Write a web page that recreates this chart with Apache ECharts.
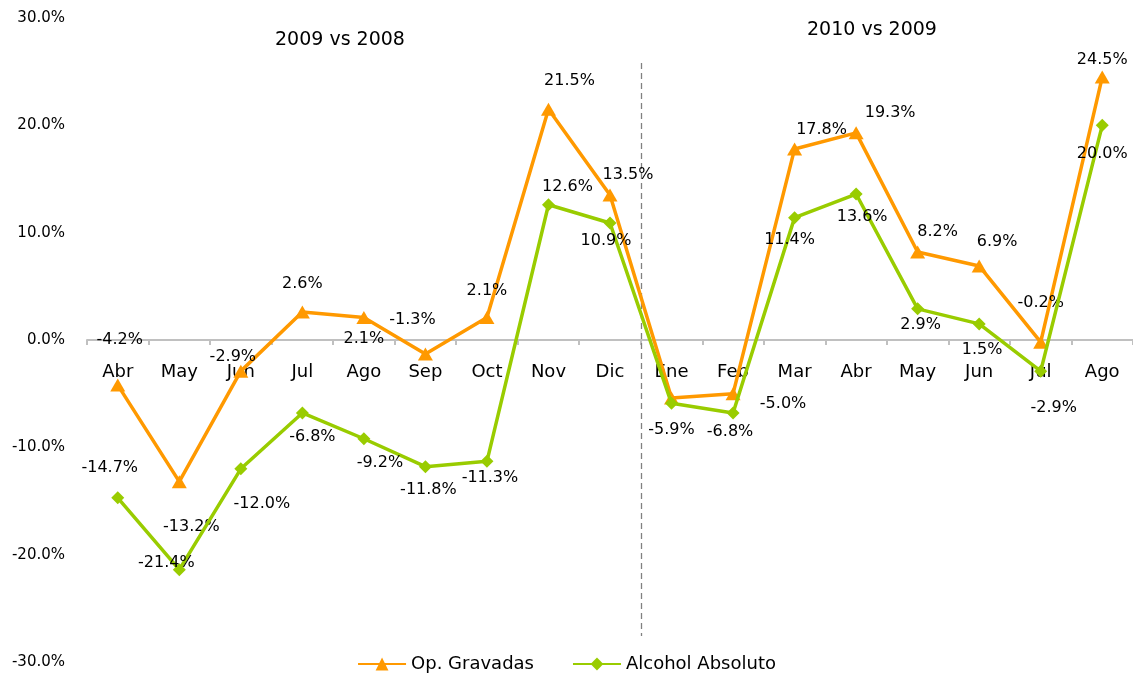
<!DOCTYPE html>
<html>
<head>
<meta charset="UTF-8">
<title></title>
<style type="text/css">
	* { margin: 0; padding: 0; }
	#chart { width: 1133px; height: 676px; background: #fff; }
</style>
</head>
<body>
<div id="chart"></div>
<script src="https://cdn.jsdelivr.net/npm/echarts@6/dist/echarts.min.js"></script>
<script type="text/javascript">
	// meses
	var months = ['Abr', 'May', 'Jun', 'Jul', 'Ago', 'Sep', 'Oct', 'Nov', 'Dic',
		'Ene', 'Feb', 'Mar', 'Abr', 'May', 'Jun', 'Jul', 'Ago'];
	// variacion %
	var opGravadas = [-4.2, -13.2, -2.9, 2.6, 2.1, -1.3, 2.1, 21.5, 13.5,
		-5.4, -5.0, 17.8, 19.3, 8.2, 6.9, -0.2, 24.5];
	var alcohol = [-14.7, -21.4, -12.0, -6.8, -9.2, -11.8, -11.3, 12.6, 10.9,
		-5.9, -6.8, 11.4, 13.6, 2.9, 1.5, -2.9, 20.0];
	var yTicks = [-30, -20, -10, 0, 10, 20, 30];

	// posicion de las etiquetas (desplazamiento desde el punto), null = sin etiqueta
	var opLabelOffset = [[2, -45], [12, 45], [-8, -14], [0, -28], [0, 21], [-13, -34], [0, -27], [21, -28], [18, -20],
		null, [50, 10], [27, -19], [34, -20], [20, -20], [18, -24], [0, -39], [0, -17]];
	var alLabelOffset = [[-8, -30], [-13, -7], [21, 35], [10, 24], [16, 24], [3, 23], [3, 17], [19, -18], [-4, 18],
		[0, 27], [-3, 19], [-5, 22], [6, 23], [3, 16], [3, 26], [13, 37], [0, 29]];

	var FONT = 'DejaVu Sans';
	var GRID_TOP = 18, GRID_BOTTOM = 14, H = 676;
	// eje x sobre la linea de 0 (centro del grid)
	var zeroOffset = -((H - GRID_TOP - GRID_BOTTOM) / 2);

	function buildData(values, offsets) {
		return values.map(function(v, i) {
			return { value: v, label: { show: !!offsets[i] } };
		});
	}

	function layoutFrom(offsets) {
		return function(p) {
			var off = offsets[p.dataIndex] || [0, 0];
			return { dx: off[0], dy: off[1], hideOverlap: false };
		};
	}

	var myChart = echarts.init(document.getElementById('chart'));
	var option = {
		animation: false,
		textStyle: { fontFamily: FONT, color: '#000' },
		grid: { left: 87, right: 0, top: GRID_TOP, bottom: GRID_BOTTOM, containLabel: false, outerBoundsMode: 'none' },
		legend: {
			left: 'center',
			top: 650,
			itemWidth: 48,
			itemHeight: 16,
			itemGap: 38,
			textStyle: { fontFamily: FONT, fontSize: 18, color: '#000' },
			data: ['Op. Gravadas', 'Alcohol Absoluto']
		},
		xAxis: {
			type: 'category',
			data: months,
			position: 'bottom',
			offset: zeroOffset,
			boundaryGap: true,
			axisLine: { onZero: false, lineStyle: { color: '#c0c0c0', width: 2 } },
			axisTick: { show: true, length: 5, interval: 0, lineStyle: { color: '#c0c0c0', width: 2 } },
			axisLabel: { show: true, interval: 0, margin: 23, fontFamily: FONT, fontSize: 18, color: '#000' },
			splitLine: { show: false }
		},
		yAxis: {
			type: 'value',
			min: yTicks[0],
			max: yTicks[yTicks.length - 1],
			interval: 10,
			axisLine: { show: false },
			axisTick: { show: false },
			splitLine: { show: false },
			axisLabel: {
				margin: 22,
				fontFamily: FONT,
				fontSize: 15,
				color: '#000',
				formatter: function(v) { return v.toFixed(1) + '%'; }
			}
		},
		series: [{
			name: 'Op. Gravadas',
			type: 'line',
			data: buildData(opGravadas, opLabelOffset),
			symbol: 'triangle',
			symbolSize: [15, 13],
			itemStyle: { color: '#ff9900' },
			lineStyle: { color: '#ff9900', width: 3.5 },
			label: {
				show: true,
				position: 'inside',
				align: 'center',
				verticalAlign: 'middle',
				fontFamily: FONT,
				fontSize: 16,
				color: '#000',
				formatter: function(p) { return p.value.toFixed(1) + '%'; }
			},
			labelLayout: layoutFrom(opLabelOffset),
			z: 2
		}, {
			name: 'Alcohol Absoluto',
			type: 'line',
			data: buildData(alcohol, alLabelOffset),
			symbol: 'diamond',
			symbolSize: 13,
			itemStyle: { color: '#99cc00' },
			lineStyle: { color: '#99cc00', width: 3.5 },
			label: {
				show: true,
				position: 'inside',
				align: 'center',
				verticalAlign: 'middle',
				fontFamily: FONT,
				fontSize: 16,
				color: '#000',
				formatter: function(p) { return p.value.toFixed(1) + '%'; }
			},
			labelLayout: layoutFrom(alLabelOffset),
			z: 3
		}]
	};
	myChart.setOption(option);

	// linea divisoria entre Dic y Ene, y titulos de los periodos
	var xa = myChart.convertToPixel({ xAxisIndex: 0 }, 8);
	var xb = myChart.convertToPixel({ xAxisIndex: 0 }, 9);
	var xDiv = Math.round((xa + xb) / 2) + 0.5;
	myChart.setOption({
		graphic: [{
			type: 'line',
			shape: { x1: xDiv, y1: 63, x2: xDiv, y2: 636 },
			style: { stroke: '#808080', lineWidth: 1.3, lineDash: [6, 4] },
			z: 1
		}, {
			type: 'text',
			left: 340 - 65,
			top: 31,
			style: { text: '2009 vs 2008', font: '19px "DejaVu Sans"', fill: '#000' }
		}, {
			type: 'text',
			left: 872 - 65,
			top: 21,
			style: { text: '2010 vs 2009', font: '19px "DejaVu Sans"', fill: '#000' }
		}]
	});
</script>
</body>
</html>
